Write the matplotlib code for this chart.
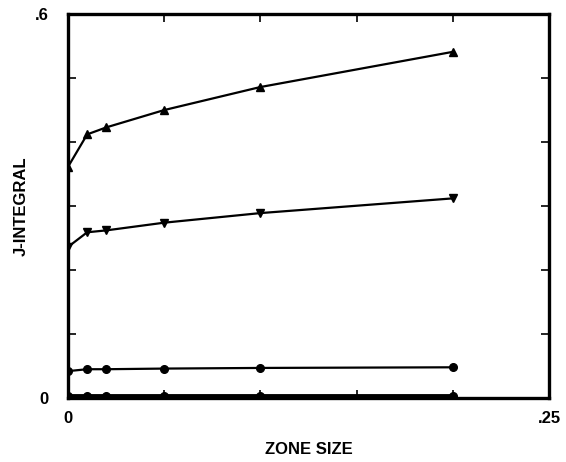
import matplotlib.pyplot as plt

# zone size vs J-integral, four cases
zona = [0.0, 0.01, 0.02, 0.05, 0.10, 0.20]
j_arriba = [0.361, 0.412, 0.423, 0.450, 0.486, 0.541]
j_medio = [0.236, 0.259, 0.262, 0.274, 0.289, 0.312]
j_bajo = [0.042, 0.045, 0.045, 0.046, 0.047, 0.048]
j_cero = [0.003, 0.003, 0.003, 0.003, 0.003, 0.003]

plt.rcParams['font.family'] = ['Liberation Sans', 'DejaVu Sans']
plt.rcParams['font.weight'] = 'bold'

fig = plt.figure(figsize=(5.66, 4.62), dpi=100)
ax = fig.add_axes([0.120, 0.1385, 0.850, 0.831])

ax.plot(zona, j_arriba, color='black', lw=1.6, marker='^', ms=6)
ax.plot(zona, j_medio, color='black', lw=1.6, marker='v', ms=6)
ax.plot(zona, j_bajo, color='black', lw=1.6, marker='o', ms=5.5)
ax.plot(zona, j_cero, color='black', lw=3.5, marker='o', ms=5.5)

ax.set_xlim(0, 0.25)
ax.set_ylim(0, 0.6)

# ejes: marcas hacia dentro en los cuatro lados
ax.set_xticks([0, 0.05, 0.10, 0.15, 0.20, 0.25])
ax.set_xticklabels(['0', '', '', '', '', '.25'])
ax.set_yticks([0, 0.1, 0.2, 0.3, 0.4, 0.5, 0.6])
ax.set_yticklabels(['0', '', '', '', '', '', '.6'])
ax.tick_params(direction='in', length=6, width=1.2, top=True, right=True,
               labelsize=12, pad=9)
ax.tick_params(axis='y', pad=14)
for s in ax.spines.values():
    s.set_linewidth(2.4)

ax.set_xlabel('ZONE SIZE', fontsize=12, fontweight='bold', labelpad=12)
ax.set_ylabel('J-INTEGRAL', fontsize=12, fontweight='bold', labelpad=4)

plt.savefig('out.png', dpi=100)
